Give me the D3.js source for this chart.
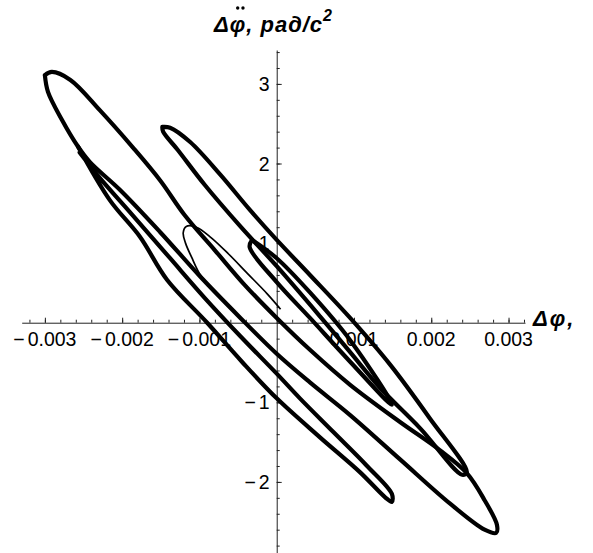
<!DOCTYPE html>
<html>
<head>
<meta charset="utf-8">
<script src="https://cdn.jsdelivr.net/npm/d3@7"></script>
<style>
  body { margin: 0; background: #fff; }
  svg text { font-family: "Liberation Sans", Arial, sans-serif; }
</style>
</head>
<body>
<div id="chart"></div>
<script>
const W = 593, H = 553;

// tick values
const xMajor = [-0.003, -0.002, -0.001, 0.001, 0.002, 0.003];
const xMajorLabels = ["0.003", "0.002", "0.001", "0.001", "0.002", "0.003"];
const yMajor = [-2, -1, 1, 2, 3];
const yMajorLabels = ["2", "1", "1", "2", "3"];
const xMinor = d3.range(-16, 17).map(i => i * 0.0002);
const yMinor = d3.range(-14, 18).map(i => i * 0.2);

// trajectory pieces, x in units of 1e-3 rad, y in rad/s^2
const loopA = [[-3.00,3.11],[-2.91,3.15],[-2.67,3.05],[-2.29,2.67],[-1.86,2.20],[-1.51,1.79],[-1.19,1.35],[-0.80,0.91],[-0.41,0.47],[0.00,0.06],[0.43,-0.34],[0.95,-0.78],[1.60,-1.25],[2.11,-1.60],[2.46,-1.89],[2.69,-2.23],[2.85,-2.54],[2.84,-2.64],[2.69,-2.60],[2.24,-2.27],[1.60,-1.72],[0.95,-1.16],[0.43,-0.75],[0.00,-0.39],[-0.47,0.06],[-0.99,0.58],[-1.51,1.14],[-2.03,1.67],[-2.42,2.02],[-2.57,2.21],[-2.78,2.55],[-2.96,2.90],[-3.00,3.11]];
const loopB = [[-1.48,2.46],[-1.38,2.45],[-1.12,2.27],[-0.73,1.86],[-0.35,1.42],[0.00,1.04],[0.43,0.60],[0.95,0.06],[1.47,-0.53],[1.98,-1.20],[2.46,-1.88],[2.40,-1.91],[1.86,-1.33],[1.34,-0.82],[0.95,-0.37],[0.56,0.08],[0.00,0.71],[-0.47,1.21],[-0.93,1.73],[-1.28,2.17],[-1.47,2.40],[-1.48,2.46]];
const loopC = [[-2.57,2.21],[-2.16,1.54],[-1.77,1.08],[-1.42,0.54],[-0.90,0.00],[-0.45,-0.49],[0.00,-0.95],[0.56,-1.44],[1.08,-1.88],[1.40,-2.19],[1.49,-2.25],[1.49,-2.15],[1.16,-1.79],[0.73,-1.37],[0.30,-0.95],[0.00,-0.64],[-0.47,-0.17],[-0.93,0.31],[-1.38,0.81],[-1.90,1.39],[-2.29,1.82],[-2.55,2.14]];
const innerLoop = [[-0.32,1.04],[0.00,0.81],[0.43,0.38],[0.95,-0.22],[1.49,-1.03],[0.95,-0.49],[0.43,0.06],[0.00,0.51],[-0.35,0.95],[-0.32,1.04]];
const thinLoop = [[-0.86,0.45],[-1.00,0.62],[-1.10,0.82],[-1.18,1.00],[-1.21,1.13],[-1.17,1.21],[-1.04,1.20],[-0.85,1.07],[-0.62,0.86],[-0.38,0.62],[-0.12,0.36],[0.05,0.17]];

const x = d3.scaleLinear().domain([-0.0033, 0.003213]).range([21.7, 525]);
const y = d3.scaleLinear().domain([-2.893, 3.426]).range([553, 50]);

const svg = d3.select("#chart").append("svg")
    .attr("width", W)
    .attr("height", H);

// x axis, ticks pointing up
svg.append("g")
    .attr("transform", `translate(0, ${y(0)})`)
    .call(d3.axisTop(x).tickValues(xMinor).tickSize(3).tickFormat("").tickSizeOuter(0))
    .call(g => g.selectAll("line, path").attr("stroke", "#222"));
svg.append("g")
    .attr("transform", `translate(0, ${y(0)})`)
    .call(d3.axisTop(x).tickValues(xMajor).tickSize(5).tickFormat("").tickSizeOuter(0))
    .call(g => g.select(".domain").remove())
    .call(g => g.selectAll("line").attr("stroke", "#222"));

// y axis, ticks pointing right
svg.append("g")
    .attr("transform", `translate(${x(0)}, 0)`)
    .call(d3.axisRight(y).tickValues(yMinor).tickSize(3).tickFormat("").tickSizeOuter(0))
    .call(g => g.selectAll("line, path").attr("stroke", "#222"));
svg.append("g")
    .attr("transform", `translate(${x(0)}, 0)`)
    .call(d3.axisRight(y).tickValues(yMajor).tickSize(5).tickFormat("").tickSizeOuter(0))
    .call(g => g.select(".domain").remove())
    .call(g => g.selectAll("line").attr("stroke", "#222"));

// tick labels, minus sign set a little apart like the original
function addLabel(sel, isNeg, str) {
    if (isNeg) {
        sel.append("tspan").text("\u2212");
        sel.append("tspan").attr("dx", 3).text(str);
    } else {
        sel.text(str);
    }
}

svg.selectAll("text.xlab")
    .data(xMajor)
    .enter()
    .append("text")
    .attr("class", "xlab")
    .attr("x", d => x(d))
    .attr("y", y(0) + 23)
    .attr("text-anchor", "middle")
    .style("font-size", "19.5px")
    .each(function(d, i) { addLabel(d3.select(this), d < 0, xMajorLabels[i]); });

svg.selectAll("text.ylab")
    .data(yMajor)
    .enter()
    .append("text")
    .attr("class", "ylab")
    .attr("x", x(0) - 7)
    .attr("y", d => y(d) + 7)
    .attr("text-anchor", "end")
    .style("font-size", "19.5px")
    .each(function(d, i) { addLabel(d3.select(this), d < 0, yMajorLabels[i]); });

// curve
const line = d3.line()
    .x(d => x(d[0] * 0.001))
    .y(d => y(d[1]))
    .curve(d3.curveCatmullRom.alpha(0.5));

[loopA, loopB, loopC, innerLoop].forEach(pts => {
    svg.append("path")
        .datum(pts)
        .attr("fill", "none")
        .attr("stroke", "#000")
        .attr("stroke-width", 4.2)
        .attr("stroke-linejoin", "round")
        .attr("stroke-linecap", "round")
        .attr("d", line);
});
svg.append("path")
    .datum(thinLoop)
    .attr("fill", "none")
    .attr("stroke", "#000")
    .attr("stroke-width", 1.7)
    .attr("d", line);

// axis titles
const yt = svg.append("text")
    .attr("x", 214)
    .attr("y", 32)
    .style("font-size", "22px")
    .style("font-style", "italic")
    .style("font-weight", "bold")
    .style("letter-spacing", "1px");
yt.append("tspan").text("\u0394\u03C6, \u0440\u0430\u0434/\u0441");
yt.append("tspan").attr("dy", -11).style("font-size", "16px").text("2");

// double dot over phi
const phiBox = yt.node().getExtentOfChar(1);
svg.selectAll("circle.ddot")
    .data([0.36, 0.68])
    .enter()
    .append("circle")
    .attr("class", "ddot")
    .attr("cx", d => phiBox.x + phiBox.width * d + 2)
    .attr("cy", 8)
    .attr("r", 1.7)
    .attr("fill", "#000");

svg.append("text")
    .attr("x", 533)
    .attr("y", 326)
    .style("font-size", "22px")
    .style("font-style", "italic")
    .style("font-weight", "bold")
    .style("letter-spacing", "2px")
    .text("\u0394\u03C6,");
</script>
</body>
</html>
